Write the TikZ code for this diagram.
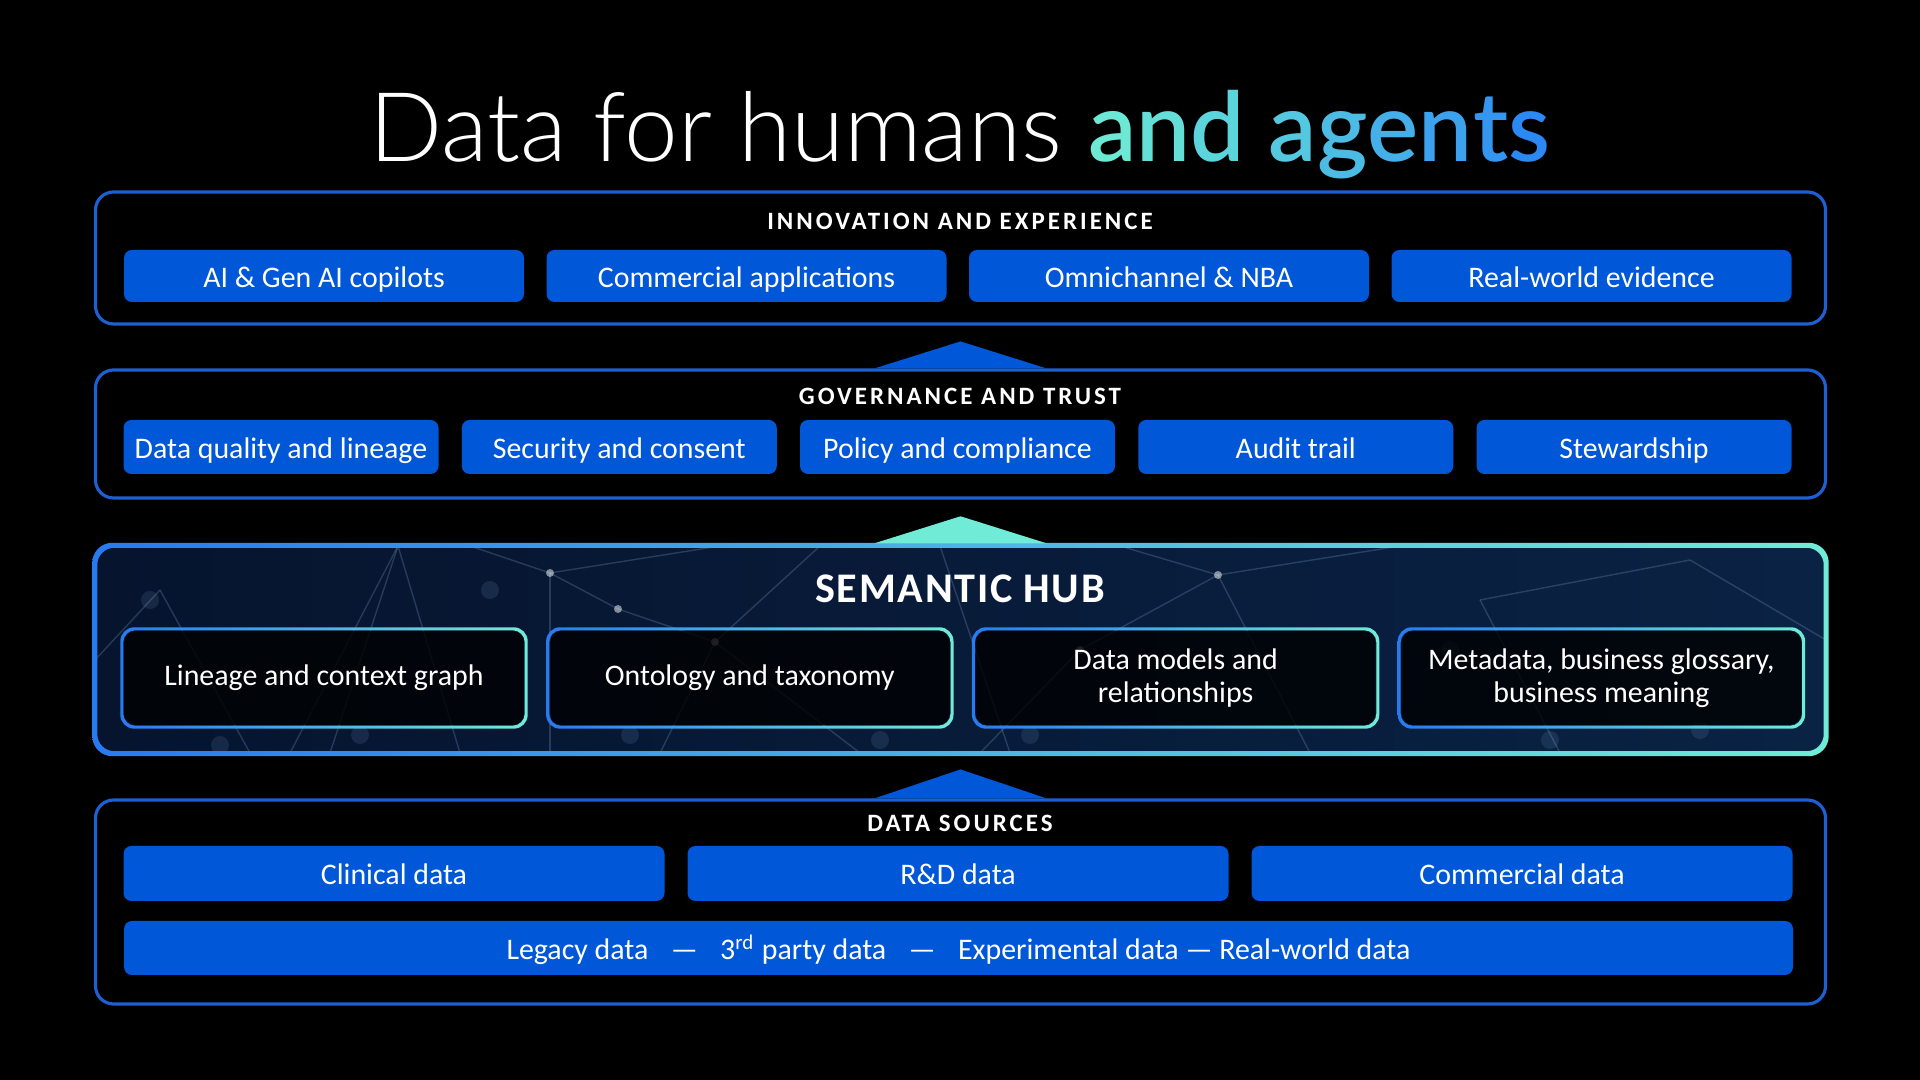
\documentclass[tikz,border=0pt]{standalone}
\usepackage{fontspec}
\setmainfont{Carlito}
\newfontfamily\headfont{Carlito}[LetterSpace=12]
\newfontfamily\hubfont{Carlito}[LetterSpace=4]
\newfontfamily\titlefont{Lato Light}
\newfontfamily\titlebold{Lato Semibold}
\usetikzlibrary{calc}

\definecolor{panelblue}{RGB}{30,95,210}
\definecolor{tileblue}{RGB}{0,87,216}
\definecolor{hubblue}{RGB}{40,122,240}
\definecolor{hubteal}{RGB}{112,236,214}
\definecolor{hubnavyA}{RGB}{6,20,46}
\definecolor{hubnavyB}{RGB}{10,34,68}
\definecolor{netline}{RGB}{150,190,235}
\definecolor{ag1}{RGB}{108,232,212}
\definecolor{ag2}{RGB}{100,222,215}
\definecolor{ag3}{RGB}{92,212,219}
\definecolor{ag4}{RGB}{84,200,224}
\definecolor{ag5}{RGB}{76,188,228}
\definecolor{ag6}{RGB}{68,175,233}
\definecolor{ag7}{RGB}{60,162,237}
\definecolor{ag8}{RGB}{52,150,240}
\definecolor{ag9}{RGB}{44,136,243}

\begin{document}
\begin{tikzpicture}[
  panel/.style={draw=panelblue, line width=0.9pt, rounded corners=0.18cm, minimum width=17.3cm, inner sep=0pt},
  hubpanel/.style={left color=hubnavyA, right color=hubnavyB, rounded corners=0.18cm, minimum width=17.3cm, inner sep=0pt},
  layertitle/.style={text=white, anchor=base, inner sep=0pt, font=\headfont\bfseries\fontsize{7.1}{8}\selectfont},
  tile/.style={fill=tileblue, text=white, rounded corners=0.08cm, inner sep=0pt, font=\fontsize{8.5}{10}\selectfont, text height=0.64em, text depth=0pt},
  hubtile/.style={fill=black, fill opacity=0.8, text opacity=1, text=white, rounded corners=0.12cm, minimum width=4cm, minimum height=0.94cm, inner sep=0pt, align=center, font=\fontsize{8.5}{9.4}\selectfont},
  ring/.style={even odd rule, left color=hubblue, right color=hubteal}
]
\fill[black] (0,0) rectangle (19.2,10.8);
\useasboundingbox (0,0) rectangle (19.2,10.8);

\node[anchor=base, text=white, inner sep=0pt, font=\titlefont\fontsize{27.4}{30}\selectfont] (title) at (9.6,9.18)
  {Data for humans {\titlebold\color{ag1}a\color{ag2}n\color{ag3}d \color{ag4}a\color{ag5}g\color{ag6}e\color{ag7}n\color{ag8}t\color{ag9}s}};

\node[panel, minimum height=1.32cm] (inno) at (9.605,8.22) {};
\node[layertitle] (innohead) at (9.6,8.50) {INNOVATION AND EXPERIENCE};
\node[tile, minimum width=4cm, minimum height=0.52cm] (copilots) at (3.24,8.04) {AI \& Gen AI copilots};
\node[tile, minimum width=4cm, minimum height=0.52cm] (apps) at (7.465,8.04) {Commercial applications};
\node[tile, minimum width=4cm, minimum height=0.52cm] (omni) at (11.69,8.04) {Omnichannel \& NBA};
\node[tile, minimum width=4cm, minimum height=0.52cm] (rwe) at (15.915,8.04) {Real-world evidence};

\node[panel, minimum height=1.28cm] (gov) at (9.605,6.46) {};
\fill[tileblue] ($(gov.north)+(-0.86,0)$) -- ($(gov.north)+(0,0.27)$) -- ($(gov.north)+(0.86,0)$) -- cycle;
\node[layertitle] (govhead) at (9.6,6.75) {GOVERNANCE AND TRUST};
\node[tile, minimum width=3.15cm, minimum height=0.54cm] (quality) at (2.81,6.33) {Data quality and lineage};
\node[tile, minimum width=3.15cm, minimum height=0.54cm] (security) at (6.1925,6.33) {Security and consent};
\node[tile, minimum width=3.15cm, minimum height=0.54cm] (policy) at (9.575,6.33) {Policy and compliance};
\node[tile, minimum width=3.15cm, minimum height=0.54cm] (audit) at (12.9575,6.33) {Audit trail};
\node[tile, minimum width=3.15cm, minimum height=0.54cm] (steward) at (16.34,6.33) {Stewardship};

\node[hubpanel, minimum height=2.07cm] (hub) at (9.605,4.305) {};
\begin{scope}
  \clip[rounded corners=0.18cm] (hub.south west) rectangle (hub.north east);
  \foreach \xa/\ya/\xb/\yb in {3.98/5.34/2.90/3.27, 3.98/5.34/4.60/3.27, 3.98/5.34/3.30/3.27,
      5.50/5.07/5.50/3.27, 5.50/5.07/4.70/5.34, 5.50/5.07/6.18/4.71, 5.50/5.07/7.20/5.34,
      6.18/4.71/7.15/4.38, 7.15/4.38/6.60/3.27, 7.15/4.38/8.60/3.27, 7.15/4.38/8.20/5.34,
      9.40/5.34/10.10/3.27, 12.18/5.05/11.20/5.34, 12.18/5.05/10.80/4.30, 12.18/5.05/13.10/3.27,
      12.18/5.05/14.00/5.34, 10.80/4.30/9.80/3.27, 14.80/4.80/15.60/3.27, 14.80/4.80/16.90/5.20,
      16.90/5.20/18.26/4.40, 1.60/4.90/2.50/3.27, 1.60/4.90/0.95/4.20}
    \draw[netline, opacity=0.22, line width=0.4pt] (\xa,\ya) -- (\xb,\yb);
  \foreach \x/\y in {1.5/4.8, 4.9/4.9, 3.6/3.45, 8.8/3.4, 14.5/4.3, 17.0/3.5, 10.3/3.45, 6.3/3.45, 15.5/3.4, 2.2/3.35}
    \fill[netline, opacity=0.12] (\x,\y) circle (0.09);
  \foreach \x/\y in {5.50/5.07, 12.18/5.05, 6.18/4.71, 7.15/4.38, 10.80/4.30}
    \fill[white, opacity=0.5] (\x,\y) circle (0.04);
\end{scope}
\shade[ring] ($(hub.south west)+(-0.025,-0.025)$) [rounded corners=0.2cm] rectangle ($(hub.north east)+(0.025,0.025)$)
  [rounded corners=0.17cm] ($(hub.south west)+(0.025,0.025)$) rectangle ($(hub.north east)+(-0.025,-0.025)$);
\fill[hubteal] ($(hub.north)+(-0.86,0.02)$) -- ($(hub.north)+(0,0.29)$) -- ($(hub.north)+(0.86,0.02)$) -- cycle;
\node[text=white, anchor=base, inner sep=0pt, font=\hubfont\bfseries\fontsize{12}{14}\selectfont] (hubhead) at (9.6,4.775) {SEMANTIC HUB};
\node[hubtile] (lineage) at (3.24,4.02) {Lineage and context graph};
\node[hubtile] (ontology) at (7.498,4.02) {Ontology and taxonomy};
\node[hubtile] (models) at (11.756,4.02) {Data models and\\relationships};
\node[hubtile] (meta) at (16.014,4.02) {Metadata, business glossary,\\business meaning};
\foreach \n in {lineage,ontology,models,meta}
  \shade[ring] ($(\n.south west)+(-0.03,-0.03)$) [rounded corners=0.14cm] rectangle ($(\n.north east)+(0.03,0.03)$)
    [rounded corners=0.12cm] (\n.south west) rectangle (\n.north east);

\node[panel, minimum height=2.04cm] (data) at (9.605,1.78) {};
\fill[tileblue] ($(data.north)+(-0.86,0)$) -- ($(data.north)+(0,0.29)$) -- ($(data.north)+(0.86,0)$) -- cycle;
\node[layertitle] (datahead) at (9.6,2.48) {DATA SOURCES};
\node[tile, minimum width=5.41cm, minimum height=0.55cm] (clinical) at (3.94,2.065) {Clinical data};
\node[tile, minimum width=5.41cm, minimum height=0.55cm] (rnd) at (9.58,2.065) {R\&D data};
\node[tile, minimum width=5.41cm, minimum height=0.55cm] (commercial) at (15.22,2.065) {Commercial data};
\node[tile, minimum width=16.69cm, minimum height=0.54cm] (other) at (9.585,1.32)
  {Legacy data\hspace{0.75em}—\hspace{0.75em}3\textsuperscript{rd} party data\hspace{0.75em}—\hspace{0.75em}Experimental data — Real-world data};
\end{tikzpicture}
\end{document}
